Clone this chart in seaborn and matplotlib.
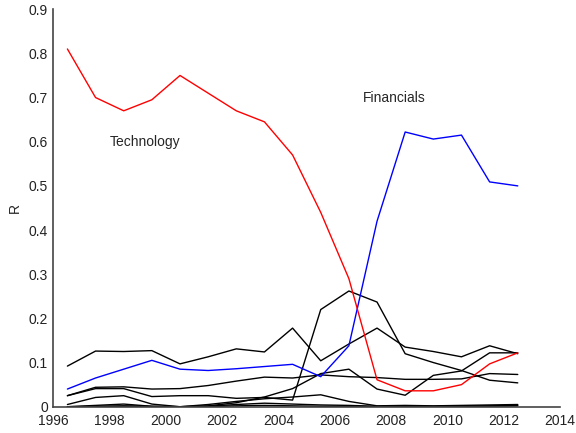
import pandas as pd
import seaborn as sns
import matplotlib.pyplot as plt
from matplotlib.ticker import FuncFormatter

years = [1996.5, 1997.5, 1998.5, 1999.5, 2000.5, 2001.5, 2002.5, 2003.5, 2004.5,
         2005.5, 2006.5, 2007.5, 2008.5, 2009.5, 2010.5, 2011.5, 2012.5]

technology = [0.81, 0.70, 0.67, 0.695, 0.75, 0.71, 0.67, 0.645, 0.57,
              0.44, 0.29, 0.061, 0.036, 0.036, 0.05, 0.097, 0.122]
financials = [0.04, 0.065, 0.085, 0.105, 0.085, 0.082, 0.086, 0.091, 0.096,
              0.068, 0.138, 0.42, 0.622, 0.606, 0.615, 0.509, 0.5]

# the other sectors, all drawn in black
other_a = [0.092, 0.126, 0.125, 0.127, 0.097, 0.113, 0.131, 0.124, 0.178,
           0.104, 0.142, 0.178, 0.135, 0.125, 0.113, 0.138, 0.12]
other_b = [0.025, 0.041, 0.041, 0.023, 0.025, 0.025, 0.019, 0.021, 0.015,
           0.22, 0.262, 0.237, 0.12, 0.1, 0.082, 0.06, 0.054]
other_c = [0.025, 0.044, 0.045, 0.04, 0.041, 0.048, 0.058, 0.067, 0.065,
           0.072, 0.068, 0.066, 0.062, 0.062, 0.063, 0.075, 0.073]
other_d = [0.005, 0.021, 0.025, 0.006, 0.0, 0.002, 0.009, 0.022, 0.041,
           0.075, 0.085, 0.04, 0.026, 0.071, 0.081, 0.122, 0.122]
other_e = [0.0, 0.003, 0.006, 0.001, 0.0, 0.005, 0.012, 0.018, 0.022,
           0.027, 0.012, 0.002, 0.003, 0.002, 0.003, 0.004, 0.005]
other_f = [0.0, 0.001, 0.002, 0.001, 0.0, 0.001, 0.005, 0.008, 0.006,
           0.004, 0.003, 0.001, 0.001, 0.001, 0.001, 0.002, 0.003]
other_g = [0.0, 0.0, 0.001, 0.0, 0.0, 0.0, 0.002, 0.003, 0.002,
           0.001, 0.001, 0.0, 0.0, 0.0, 0.001, 0.001, 0.002]

series = {
    "a": (other_a, "black"), "b": (other_b, "black"), "c": (other_c, "black"),
    "d": (other_d, "black"), "e": (other_e, "black"), "f": (other_f, "black"),
    "g": (other_g, "black"),
    "Financials": (financials, "#0000ff"), "Technology": (technology, "#ff0000"),
}

sns.set_style("white")
plt.rcParams['font.family'] = ['Liberation Sans', 'DejaVu Sans']
plt.rcParams['xtick.direction'] = 'in'
plt.rcParams['ytick.direction'] = 'in'

fig = plt.figure(figsize=(5.76, 4.33), dpi=100)
ax = fig.add_axes([0.0926, 0.0607, 0.8796, 0.918])

for name, (vals, col) in series.items():
    df = pd.DataFrame({"Year": years, "R": vals})
    sns.lineplot(data=df, x="Year", y="R", color=col, linewidth=1, ax=ax)

ax.text(1998.0, 0.599, "Technology", fontsize=10, va="center", ha="left")
ax.text(2007.0, 0.70, "Financials", fontsize=10, va="center", ha="left")

ax.set_xlim(1996, 2014)
ax.set_ylim(0, 0.9)
ax.set_xticks(range(1996, 2015, 2))
ax.set_yticks([i / 10 for i in range(10)])
ax.yaxis.set_major_formatter(FuncFormatter(lambda v, p: "0" if v == 0 else f"{v:.1f}"))
ax.tick_params(labelsize=10, length=3, width=0.8, colors="#222222", pad=4)
ax.tick_params(axis="x", pad=5)
ax.set_xlabel("")
ax.set_ylabel("R", fontsize=10, labelpad=5)
sns.despine(ax=ax)
for s in ["left", "bottom"]:
    ax.spines[s].set_color("#444444")
    ax.spines[s].set_linewidth(1.2)

fig.savefig("out.png", dpi=100)
